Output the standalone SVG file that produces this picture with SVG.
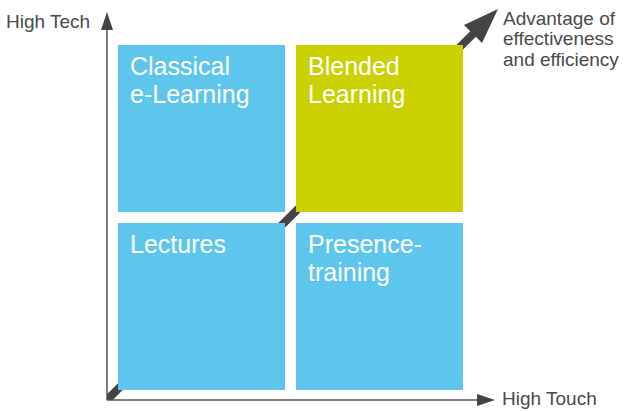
<svg xmlns="http://www.w3.org/2000/svg" width="627" height="411" viewBox="0 0 627 411">
  <defs>
    <style>
      .box-blue { fill: #5ec6ed; }
      .box-green { fill: #cbd000; }
      .box-text { font-family: "Liberation Sans", Arial, sans-serif; font-size: 25px; fill: #ffffff; }
      .label { font-family: "Liberation Sans", Arial, sans-serif; font-size: 19px; fill: #4a4a4a; }
      .axis { stroke: #555555; stroke-width: 1.5; fill: none; }
      .head { fill: #444444; }
    </style>
  </defs>
  <rect width="627" height="411" fill="#ffffff"/>
  <g id="connectors">
    <polygon class="head" points="107,394.34 107,400 112.66,400 476.83,35.83 471.17,30.17"/>
    <polygon class="head" points="498,9 464,25 482,43"/>
    <line class="axis" x1="107" y1="400" x2="107" y2="28"/>
    <polygon class="head" points="107,12 101,30 113,30"/>
    <line class="axis" x1="107" y1="400" x2="479" y2="400"/>
    <polygon class="head" points="495,400 477,394 477,406"/>
  </g>
  <g id="classical">
    <rect class="box-blue" x="118" y="45" width="167" height="167"/>
    <text class="box-text" x="130" y="75">Classical</text>
    <text class="box-text" x="130" y="103">e-Learning</text>
  </g>
  <g id="blended">
    <rect class="box-green" x="296" y="45" width="167" height="167"/>
    <text class="box-text" x="308" y="75">Blended</text>
    <text class="box-text" x="308" y="103">Learning</text>
  </g>
  <g id="lectures">
    <rect class="box-blue" x="118" y="223" width="167" height="167"/>
    <text class="box-text" x="130" y="253">Lectures</text>
  </g>
  <g id="presence">
    <rect class="box-blue" x="296" y="223" width="167" height="167"/>
    <text class="box-text" x="308" y="253">Presence-</text>
    <text class="box-text" x="308" y="281">training</text>
  </g>
  <g id="high-tech">
    <text class="label" x="6" y="28">High Tech</text>
  </g>
  <g id="high-touch">
    <text class="label" x="502" y="405">High Touch</text>
  </g>
  <g id="advantage">
    <text class="label" x="503" y="25">Advantage of</text>
    <text class="label" x="503" y="45">effectiveness</text>
    <text class="label" x="503" y="66">and efficiency</text>
  </g>
</svg>
